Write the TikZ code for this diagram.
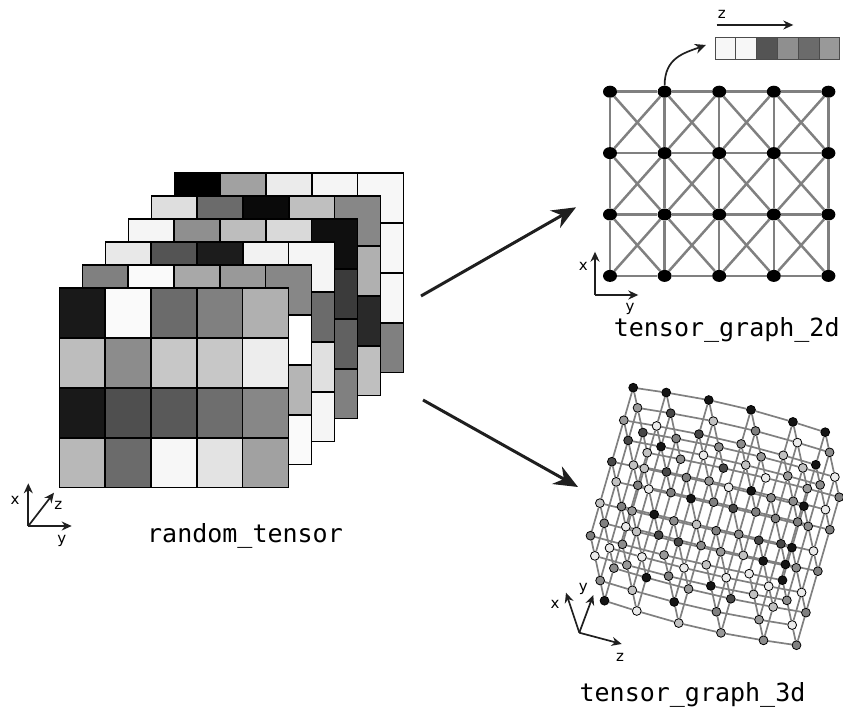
\documentclass[tikz,border=0pt]{standalone}
\usepackage{fontspec}
\setmonofont{DejaVu Sans Mono}
\setsansfont{DejaVu Sans}
\usepackage{tikz}
\usetikzlibrary{positioning,calc,arrows.meta,shapes,backgrounds}
\tikzset{%
  arrow/.style = {
    -{Stealth[length=24pt,width=20pt]},
    line width = 3pt,
    draw = #1,
  },
  arrow/.default = {black!88},
  axis/.style = {
    -{Stealth[length=10pt,width=9pt]},
    line width = #1,
    draw = black!88,
  },
  axis/.default = {1.7pt},
  cell/.style = {
    draw = black,
    line width = 1.6pt,
    fill = white!#1!black,
    minimum width = 45.8pt,
    minimum height = 49.8pt,
    inner sep = 0pt,
    outer sep = 0pt,
  },
  vcell/.style = {
    draw = black!70,
    line width = 0.8pt,
    fill = white!#1!black,
    minimum width = 20.8pt,
    minimum height = 22.6pt,
    inner sep = 0pt,
    outer sep = 0pt,
  },
  dot/.style = {
    ellipse,
    fill = black,
    minimum width = 14pt,
    minimum height = 12pt,
    inner sep = 0pt,
  },
  ball/.style = {
    circle,
    draw = black,
    line width = 0.8pt,
    fill = white!#1!black,
    minimum size = 8.8pt,
    inner sep = 0pt,
  },
  link/.style = {
    draw = black!50,
    line width = #1,
  },
  lbl/.style = {
    font = \sffamily\fontsize{15}{15}\selectfont,
    inner sep = 0pt,
  },
  title/.style = {
    font = \ttfamily\fontsize{25}{30}\selectfont,
    anchor = base,
    inner sep = 0pt,
  },
}

\begin{document}
\begin{tikzpicture}[x=1pt,y=-1pt]
\useasboundingbox (0,0) rectangle (843,711);

\def\grays{{10,98,42,50,69, 74,55,78,78,93, 10,31,35,43,53, 72,42,97,89,63,
  50,98,66,60,53, 30,80,45,20,100, 85,25,60,90,71, 40,70,15,55,98,
  91,33,11,95,96, 20,65,80,35,42, 55,90,10,70,88, 75,30,60,45,96,
  96,56,74,85,6, 45,15,90,60,23, 70,85,30,20,38, 10,50,75,95,50,
  87,42,4,75,53, 60,95,35,25,69, 15,40,80,65,16, 90,20,50,30,75,
  0,63,92,96,97, 35,75,20,55,97, 80,10,65,40,97, 25,90,45,70,50}}
\foreach \sl in {5,4,...,0}
  \foreach \ro in {0,...,3}
    \foreach \co in {0,...,4} {
      \pgfmathtruncatemacro{\w}{\grays[\sl*20+\ro*5+\co]}
      \node(c\sl\ro\co) [cell=\w] at (82.2+23*\sl+45.8*\co, 313.2-23*\sl+49.8*\ro) {};
    }

\coordinate(ta) at (28.3,526);
\coordinate(tx) at (28.3,483.3);
\coordinate(ty) at (71.7,526);
\coordinate(tz) at (54,492.7);
\draw[axis] (ta) -- (tx);
\draw[axis] (ta) -- (ty);
\draw[axis] (ta) -- (tz);
\node(tlx) [lbl] at (15,500)    {x};
\node(tly) [lbl] at (61.7,540.7) {y};
\node(tlz) [lbl] at (58.3,505)  {z};
\node(rt) [title] at (245,542.3) {random\_tensor};

\foreach \ro in {0,...,3}
  \foreach \co in {0,...,4}
    \node(g\ro\co) [dot] at (610+54.6*\co, 91.7+61.4*\ro) {};
\begin{pgfonlayer}{background}
\foreach \ro in {0,...,3}
  \foreach \co/\cn in {0/1,1/2,2/3,3/4}
    \draw[link=2.5pt] (g\ro\co) -- (g\ro\cn);
\foreach \ro/\rn in {0/1,1/2,2/3}
  \foreach \co in {0,...,4}
    \draw[link=2.5pt] (g\ro\co) -- (g\rn\co);
\foreach \ro/\rn in {0/1,1/2,2/3}
  \foreach \co/\cn in {0/1,1/2,2/3,3/4} {
    \draw[link=2.5pt] (g\ro\co) -- (g\rn\cn);
    \draw[link=2.5pt] (g\ro\cn) -- (g\rn\co);
  }
\end{pgfonlayer}

\node(v0) [vcell=97] at (725.4,48.6) {};
\node(v1) [vcell=97, right = 0pt of v0] {};
\node(v2) [vcell=33, right = 0pt of v1] {};
\node(v3) [vcell=56, right = 0pt of v2] {};
\node(v4) [vcell=42, right = 0pt of v3] {};
\node(v5) [vcell=60, right = 0pt of v4] {};
\coordinate(vt) at (706,45);
\draw[-{Stealth[length=11pt,width=10pt]}, line width=1.7pt, black!88]
  (g01) .. controls +(0,-34) and +(-22,8) .. (vt);
\coordinate(zs) at (716.7,25);
\coordinate(ze) at (793.3,25);
\draw[axis=1.4pt] (zs) -- (ze);
\node(vlz) [lbl] at (721.7,14) {z};

\coordinate(ga) at (595,295);
\coordinate(gx) at (595,251.7);
\coordinate(gy) at (638.3,295);
\draw[axis] (ga) -- (gx);
\draw[axis] (ga) -- (gy);
\node(glx) [lbl] at (583.3,266.7) {x};
\node(gly) [lbl] at (630,309)    {y};
\node(g2) [title] at (726.7,336.7) {tensor\_graph\_2d};

\def\xs{{0,0.31,0.69,1}}
\def\ys{{0,0.22,0.5,0.78,1}}
\def\zs{{0,0.17,0.39,0.61,0.83,1}}
\def\shades{{8,28,50,55,60,76,92}}
\foreach \i in {0,...,3}
  \foreach \j in {0,...,4}
    \foreach \k in {0,...,5} {
      \pgfmathsetmacro{\pa}{\xs[\i]-0.5}
      \pgfmathsetmacro{\pb}{\ys[\j]-0.5}
      \pgfmathsetmacro{\pc}{\zs[\k]}
      \pgfmathsetmacro{\pf}{1+0.05*sin(180*\pc)}
      \pgfmathsetmacro{\px}{618.85+\pf*(-14*\pa+42.7*\pb)+192*\pc}
      \pgfmathsetmacro{\py}{494.2+\pf*(-65*\pa-148*\pb)+44.5*\pc}
      \pgfmathtruncatemacro{\t}{mod(\i*17+\j*31+\k*13+\i*\j*7+\j*\k*5+\k*\i*3,7)}
      \pgfmathtruncatemacro{\w}{\shades[\t]}
      \node(p\i\j\k) [ball=\w] at (\px,\py) {};
    }
\begin{pgfonlayer}{background}
\foreach \i in {0,...,3}
  \foreach \j in {0,...,4}
    \foreach \k/\kn in {0/1,1/2,2/3,3/4,4/5}
      \draw[link=1.7pt] (p\i\j\k) -- (p\i\j\kn);
\foreach \i in {0,...,3}
  \foreach \j/\jn in {0/1,1/2,2/3,3/4}
    \foreach \k in {0,...,5}
      \draw[link=1.7pt] (p\i\j\k) -- (p\i\jn\k);
\foreach \i/\in in {0/1,1/2,2/3}
  \foreach \j in {0,...,4}
    \foreach \k in {0,...,5}
      \draw[link=1.7pt] (p\i\j\k) -- (p\in\j\k);
\end{pgfonlayer}

\coordinate(ha) at (579.3,632.7);
\coordinate(hx) at (566,592.7);
\coordinate(hy) at (593.3,595);
\coordinate(hz) at (621.7,644);
\draw[axis] (ha) -- (hx);
\draw[axis] (ha) -- (hy);
\draw[axis] (ha) -- (hz);
\node(hlx) [lbl] at (555,604.3) {x};
\node(hly) [lbl] at (583.3,589.3) {y};
\node(hlz) [lbl] at (620,657.3) {z};
\node(g3) [title] at (692.5,701.7) {tensor\_graph\_3d};

\coordinate(s2) at (421,296);
\coordinate(e2) at (576,207.3);
\coordinate(s3) at (423,400);
\coordinate(e3) at (578,487);
\draw[arrow] (s2) -- (e2);
\draw[arrow] (s3) -- (e3);
\end{tikzpicture}
\end{document}
